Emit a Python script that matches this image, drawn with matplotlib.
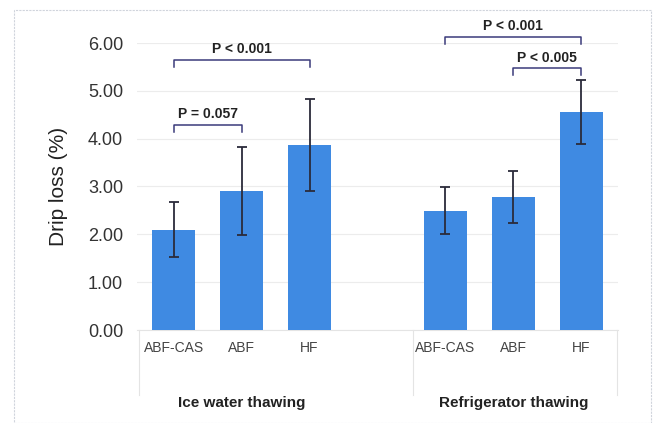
import matplotlib
matplotlib.use("Agg")
import matplotlib.pyplot as plt
from matplotlib.patches import Rectangle

plt.rcParams['font.family'] = ['Liberation Sans', 'DejaVu Sans']

groups = ["Ice water thawing", "Refrigerator thawing"]
categories = ["ABF-CAS", "ABF", "HF"]
means = [[2.10, 2.91, 3.87], [2.49, 2.78, 4.56]]
errors = [[0.57, 0.92, 0.96], [0.49, 0.55, 0.67]]
yticks = [0, 1, 2, 3, 4, 5, 6]
# (group, from index, to index, bracket height, label)
brackets = [(0, 0, 2, 5.65, "P < 0.001"),
            (0, 0, 1, 4.29, "P = 0.057"),
            (1, 0, 2, 6.13, "P < 0.001"),
            (1, 1, 2, 5.48, "P < 0.005")]

bar_color = "#3f8ae2"
W, H = 658, 423
fig = plt.figure(figsize=(W / 100, H / 100), dpi=100)
ax = fig.add_axes([137 / W, 1 - 330 / H, (618 - 137) / W, (330 - 43) / H])

positions = []
for g in range(len(groups)):
    xs = [g * 4 + i for i in range(len(categories))]
    positions.append(xs)
    ax.bar(xs, means[g], width=0.63, color=bar_color, zorder=2)
    ax.errorbar(xs, means[g], yerr=errors[g], fmt="none", ecolor="#2b2b3a",
                elinewidth=1.3, capsize=3.5, capthick=1.3, zorder=3)

ax.set_xlim(-0.54, 6.54)
ax.set_ylim(0, 6)
ax.set_yticks(yticks)
ax.set_yticklabels([f"{v:.2f}" for v in yticks], fontsize=13, color="#333333")
ax.tick_params(axis="y", length=0, pad=10)
ax.set_xticks([p for xs in positions for p in xs])
ax.set_xticklabels(categories * len(groups), fontsize=10, color="#444444")
ax.tick_params(axis="x", length=0, pad=8)
ax.grid(axis="y", color="#ececec", linewidth=0.8, zorder=0)
for s in ax.spines.values():
    s.set_visible(False)
ax.set_ylabel("Drip loss (%)", fontsize=15, color="#222222", labelpad=14)

for g, i, j, h, label in brackets:
    x1, x2 = positions[g][i], positions[g][j]
    leg = 0.15
    ax.plot([x1, x1, x2, x2], [h - leg, h, h, h - leg], color="#3b3b7a",
            linewidth=1.1, clip_on=False, zorder=4)
    ax.text((x1 + x2) / 2, h + 0.07, label, ha="center", va="bottom",
            fontsize=10, fontweight="bold", color="#222222", clip_on=False)

# group labels
for g, name in enumerate(groups):
    cx = (positions[g][0] + positions[g][-1]) / 2
    ax.text(cx, -1.53, name, ha="center", va="center", fontsize=11,
            fontweight="bold", color="#222222")

# faint category box lines
light = "#e4e4e4"
ax.plot([-0.54, 6.54], [0, 0], color=light, linewidth=0.8, clip_on=False, zorder=1)
for xv in [-0.51, 3.52, 6.52]:
    ax.plot([xv, xv], [0, -1.35], color=light, linewidth=0.8, clip_on=False)

# outer border
fig.add_artist(Rectangle((14 / W, 0), (651 - 14) / W, 1 - 10 / H,
                         transform=fig.transFigure, fill=False,
                         edgecolor="#d0d4dc", linewidth=0.8, linestyle=(0, (2, 1))))

fig.savefig("out.png", dpi=100)
